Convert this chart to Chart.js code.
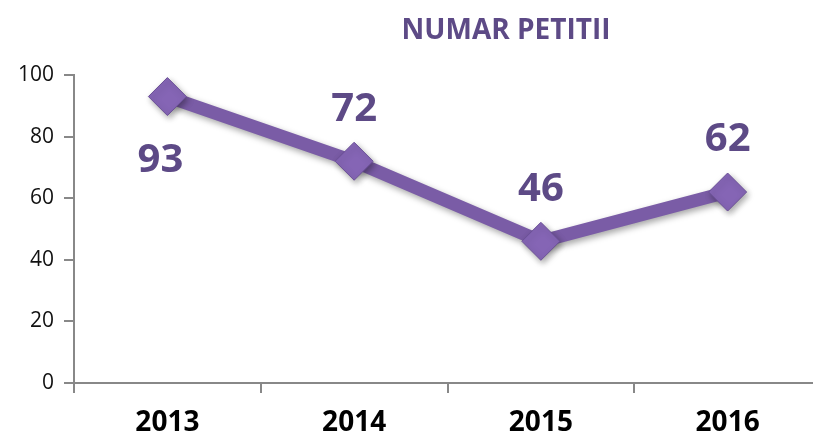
<!DOCTYPE html>
<html>
<head>
<meta charset="utf-8">
<script src="https://cdn.jsdelivr.net/npm/chart.js@4"></script>
<style>
  html, body { margin: 0; padding: 0; background: #fff; overflow: hidden; }
  #wrap { width: 841px; height: 437px; }
</style>
</head>
<body>
<div id="wrap"><canvas id="chart"></canvas></div>
<script>
const years = ['2013', '2014', '2015', '2016'];
const petitii = [93, 72, 46, 62];
const yTicks = [0, 20, 40, 60, 80, 100];
const chartTitle = 'NUMAR PETITII';

const purple = '#7a5ca6';
const labelColor = '#5d4a86';

// value labels next to each point: 93 sits below-left, the others above
const labelOffsets = [[-7, 64], [0, -52], [0, -52], [0, -52]];

const valueLabels = {
  id: 'valueLabels',
  afterDatasetsDraw(chart) {
    const ctx = chart.ctx;
    const meta = chart.getDatasetMeta(0);
    ctx.save();
    ctx.font = 'bold 40px "Open Sans", sans-serif';
    ctx.fillStyle = labelColor;
    ctx.textAlign = 'center';
    ctx.textBaseline = 'middle';
    meta.data.forEach((pt, i) => {
      ctx.fillText(String(petitii[i]), pt.x + labelOffsets[i][0], pt.y + labelOffsets[i][1]);
    });
    // title, placed like the original (right of centre)
    ctx.font = 'bold 28px "Open Sans", sans-serif';
    ctx.fillText(chartTitle, 506, 31);
    ctx.restore();
  }
};

const shadow = {
  id: 'shadow',
  beforeDatasetsDraw(chart) {
    const ctx = chart.ctx;
    ctx.save();
    ctx.shadowColor = 'rgba(0,0,0,0.35)';
    ctx.shadowBlur = 6;
    ctx.shadowOffsetX = 2;
    ctx.shadowOffsetY = 3;
  },
  afterDatasetsDraw(chart) {
    chart.ctx.restore();
  }
};

new Chart(document.getElementById('chart'), {
  type: 'line',
  data: {
    labels: years,
    datasets: [{
      data: petitii,
      borderColor: purple,
      borderWidth: 13,
      pointStyle: 'rectRot',
      pointRadius: 19,
      pointBackgroundColor: '#8565b5',
      pointBorderColor: '#6a4f96',
      pointBorderWidth: 1,
      tension: 0
    }]
  },
  options: {
    responsive: true,
    maintainAspectRatio: false,
    animation: false,
    layout: { padding: { top: 75, left: 8, right: 0, bottom: -16 } },
    plugins: {
      legend: { display: false },
      tooltip: { enabled: false },
      title: { display: false }
    },
    scales: {
      x: {
        offset: true,
        grid: {
          offset: true,
          drawOnChartArea: false,
          color: '#888',
          tickLength: 10,
          lineWidth: 2
        },
        border: { color: '#888', width: 2 },
        ticks: {
          color: '#000',
          font: { family: '"Open Sans", sans-serif', size: 28, weight: 'bold', lineHeight: 1 },
          padding: 16
        }
      },
      y: {
        min: 0,
        max: 100,
        afterBuildTicks(scale) {
          scale.ticks = yTicks.map(v => ({ value: v }));
        },
        grid: {
          drawOnChartArea: false,
          color: '#888',
          tickLength: 10,
          lineWidth: 2
        },
        border: { color: '#888', width: 2 },
        ticks: {
          color: '#111',
          font: { family: '"Open Sans", sans-serif', size: 21 },
          padding: 10
        }
      }
    }
  },
  plugins: [shadow, valueLabels]
});
</script>
</body>
</html>
